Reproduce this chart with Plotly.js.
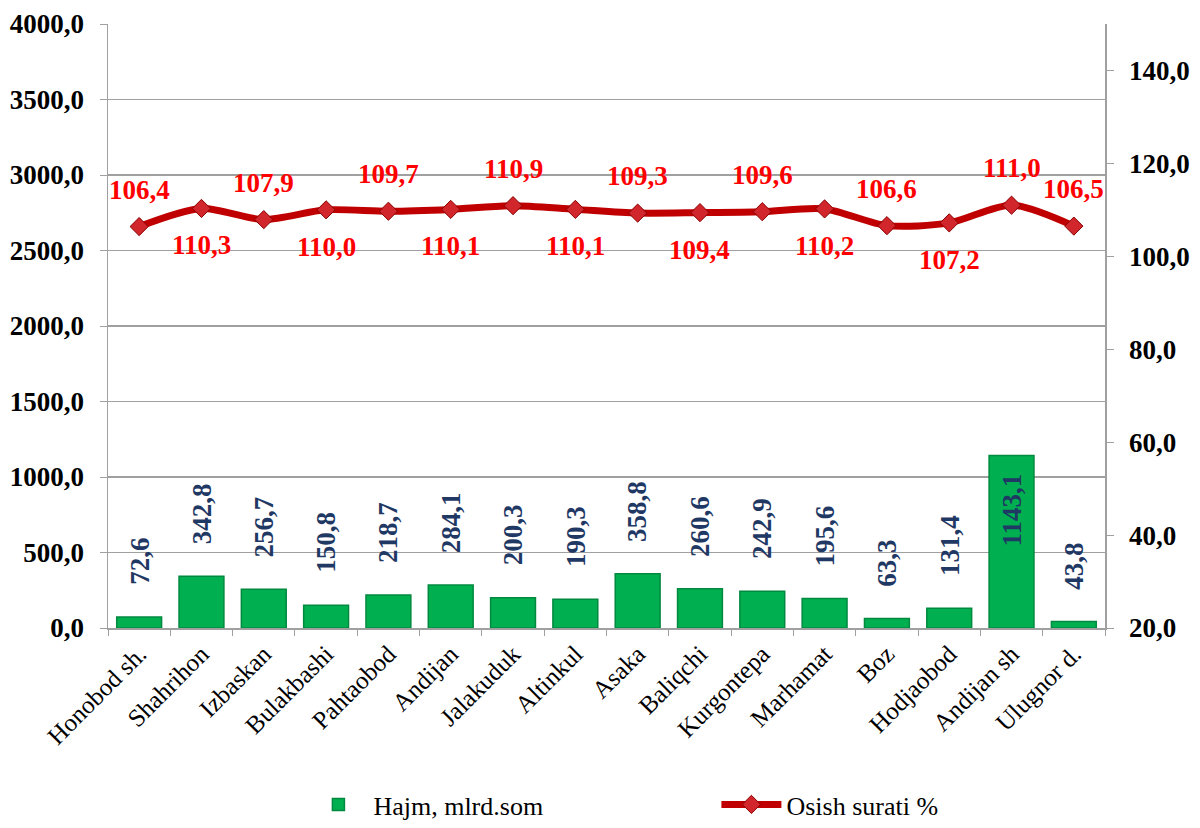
<!DOCTYPE html>
<html>
<head>
<meta charset="utf-8">
<script src="https://cdn.plot.ly/plotly-3.0.1.min.js"></script>
<style>html,body{margin:0;padding:0;background:#fff}#chart{width:1200px;height:828px}</style>
</head>
<body>
<div id="chart"></div>
<script>
const categories = ["Honobod sh.","Shahrihon","Izbaskan","Bulakbashi","Pahtaobod","Andijan","Jalakuduk","Altinkul","Asaka","Baliqchi","Kurgontepa","Marhamat","Boz","Hodjaobod","Andijan sh","Ulugnor d."];
const volume = [72.6,342.8,256.7,150.8,218.7,284.1,200.3,190.3,358.8,260.6,242.9,195.6,63.3,131.4,1143.1,43.8];
const growth = [106.4,110.3,107.9,110.0,109.7,110.1,110.9,110.1,109.3,109.4,109.6,110.2,106.6,107.2,111.0,106.5];
const growthLabelAbove = [true,false,true,false,true,false,true,false,true,false,true,false,true,false,true,true];
const volumeName = "Hajm, mlrd.som";
const growthName = "Osish surati %";

const fmt = v => v.toFixed(1).replace('.', ',');
const serif = 'Liberation Serif';

const barTrace = {
  type: 'bar', x: categories, y: volume, name: volumeName,
  marker: {color: '#00B050', line: {color: '#00893F', width: 1.5}},
  width: 0.72, hoverinfo: 'skip'
};
const lineTrace = {
  type: 'scatter', mode: 'lines+markers', x: categories, y: growth, yaxis: 'y2', name: growthName,
  line: {color: '#C00000', width: 7, shape: 'spline', smoothing: 0.8},
  marker: {symbol: 'diamond', size: 14, color: '#D0262C', line: {color: '#8B0000', width: 1}},
  hoverinfo: 'skip'
};

const annotations = [];
categories.forEach((c, i) => {
  const big = volume[i] > 800;
  annotations.push({
    x: c, y: volume[i], xref: 'x', yref: 'y', text: fmt(volume[i]),
    textangle: -90, showarrow: false,
    yanchor: big ? 'top' : 'bottom', yshift: big ? -16 : 30,
    font: {family: serif, size: 27, color: '#1F3864', weight: 'bold'}
  });
  annotations.push({
    x: c, y: growth[i], xref: 'x', yref: 'y2', text: fmt(growth[i]),
    showarrow: false, yanchor: 'middle',
    yshift: growthLabelAbove[i] ? 37 : -37,
    font: {family: serif, size: 27, color: '#FF0000', weight: 'bold'}
  });
});

const layout = {
  width: 1200, height: 828,
  margin: {l: 108, r: 95, t: 24, b: 200},
  paper_bgcolor: '#fff', plot_bgcolor: '#fff',
  separators: ',.',
  font: {family: serif},
  showlegend: true,
  legend: {orientation: 'h', x: 0.196, xanchor: 'left', yref: 'container', y: 0, yanchor: 'bottom',
    entrywidth: 338, entrywidthmode: 'pixels', itemwidth: 60,
    font: {family: serif, size: 26, color: '#000'}},
  xaxis: {
    type: 'category', tickangle: -45, showline: true, linecolor: '#A0A0A0', linewidth: 1.5,
    ticks: 'outside', ticklen: 6, tickcolor: '#A0A0A0', tickson: 'boundaries', automargin: false,
    showgrid: false, tickfont: {family: serif, size: 25, color: '#000'}, range: [-0.5, 15.5]
  },
  yaxis: {
    range: [0, 4000], dtick: 500, tickformat: '.1f', showline: true, linecolor: '#A0A0A0', linewidth: 1.5,
    ticks: 'outside', ticklen: 7, tickcolor: '#A0A0A0', showgrid: true, gridcolor: '#A0A0A0', gridwidth: 1.5,
    ticklabelstandoff: 10,
    zeroline: false, automargin: false, tickfont: {family: serif, size: 27, color: '#000', weight: 'bold'}
  },
  yaxis2: {
    overlaying: 'y', side: 'right', range: [20, 150], tickvals: [20,40,60,80,100,120,140], tickformat: '.1f',
    showline: true, linecolor: '#A0A0A0', linewidth: 1.5, ticks: 'outside', ticklen: 7, tickcolor: '#A0A0A0',
    ticklabelstandoff: 10,
    showgrid: false, zeroline: false, automargin: false, tickfont: {family: serif, size: 27, color: '#000', weight: 'bold'}
  },
  annotations: annotations,
  bargap: 0.28
};

Plotly.newPlot('chart', [barTrace, lineTrace], layout, {displayModeBar: false, staticPlot: true});
</script>
</body>
</html>
